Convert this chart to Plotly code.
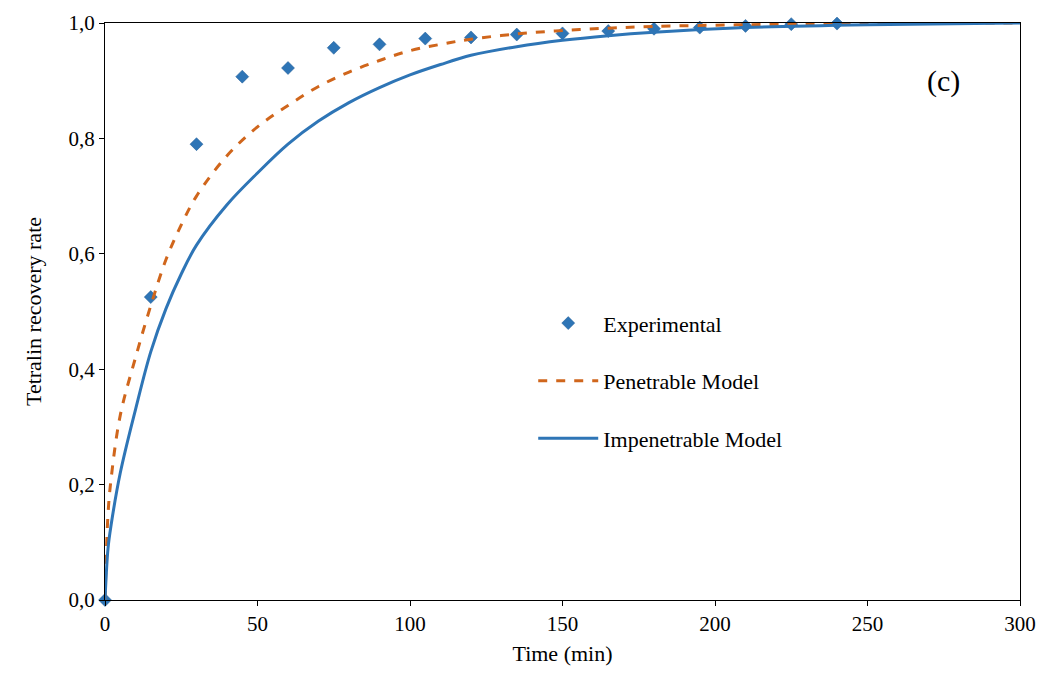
import plotly.graph_objects as go

exp_t = [0, 15, 30, 45, 60, 75, 90, 105, 120, 135, 150, 165, 180, 195, 210, 225, 240]
exp_y = [0.0, 0.525, 0.79, 0.907, 0.922, 0.957, 0.963, 0.973, 0.975, 0.98, 0.982,
         0.986, 0.99, 0.992, 0.995, 0.998, 0.999]

model_t = [0, 1, 2, 5, 10, 15, 20, 25, 30, 40, 50, 60, 70, 80, 90, 100, 110, 120, 135,
           150, 165, 180, 210, 250, 300]
pen_y = [0.0, 0.15, 0.21, 0.32, 0.42, 0.51, 0.59, 0.65, 0.70, 0.77, 0.82, 0.857, 0.89,
         0.915, 0.935, 0.952, 0.963, 0.972, 0.981, 0.987, 0.991, 0.994, 0.997, 0.999, 1.0]
imp_y = [0.0, 0.09, 0.13, 0.22, 0.33, 0.43, 0.505, 0.565, 0.615, 0.685, 0.74, 0.79, 0.83,
         0.862, 0.888, 0.91, 0.928, 0.944, 0.959, 0.97, 0.978, 0.984, 0.992, 0.997, 1.0]

FONT = "Liberation Serif"

fig = go.Figure()
fig.add_trace(go.Scatter(x=exp_t, y=exp_y, mode="markers", name="Experimental",
                         legendgroup="a", cliponaxis=False,
                         marker=dict(symbol="diamond", size=10, color="#2E75B6",
                                     line=dict(width=0.5, color="#1F5A94"))))
fig.add_trace(go.Scatter(x=model_t, y=pen_y, mode="lines", name="Penetrable Model",
                         legendgroup="b",
                         line=dict(color="#D0661C", width=3, dash="dash", shape="spline")))
fig.add_trace(go.Scatter(x=model_t, y=imp_y, mode="lines", name="Impenetrable Model",
                         legendgroup="c",
                         line=dict(color="#2E75B6", width=3, shape="spline")))

axis = dict(showgrid=False, zeroline=False, showline=True, linecolor="black", linewidth=1,
            mirror=True, ticks="outside", ticklen=5, tickcolor="black", automargin=False,
            tickfont=dict(size=21, family=FONT, color="black"))

fig.update_xaxes(range=[0, 300], dtick=50,
                 title=dict(text="Time (min)", standoff=10,
                            font=dict(size=22, family=FONT, color="black")),
                 **axis)
fig.update_yaxes(range=[0, 1], dtick=0.2, tickformat=".1f",
                 title=dict(text="Tetralin recovery rate", standoff=20,
                            font=dict(size=22, family=FONT, color="black")),
                 **axis)

fig.add_annotation(x=275, y=0.9, text="(c)", showarrow=False,
                   font=dict(size=30, family=FONT, color="black"))

# the page body adds an 8px margin, so the figure is sized to land the axes box in place
fig.update_layout(
    width=1030, height=675,
    margin=dict(l=97, r=18, t=15, b=83),
    plot_bgcolor="white", paper_bgcolor="white",
    separators=", ",
    font=dict(family=FONT, color="black"),
    legend=dict(x=0.468, y=0.516, xanchor="left", yanchor="top",
                font=dict(size=22, family=FONT, color="black"),
                bgcolor="rgba(0,0,0,0)", itemwidth=60, tracegroupgap=26),
)

fig.write_html("out.html")
